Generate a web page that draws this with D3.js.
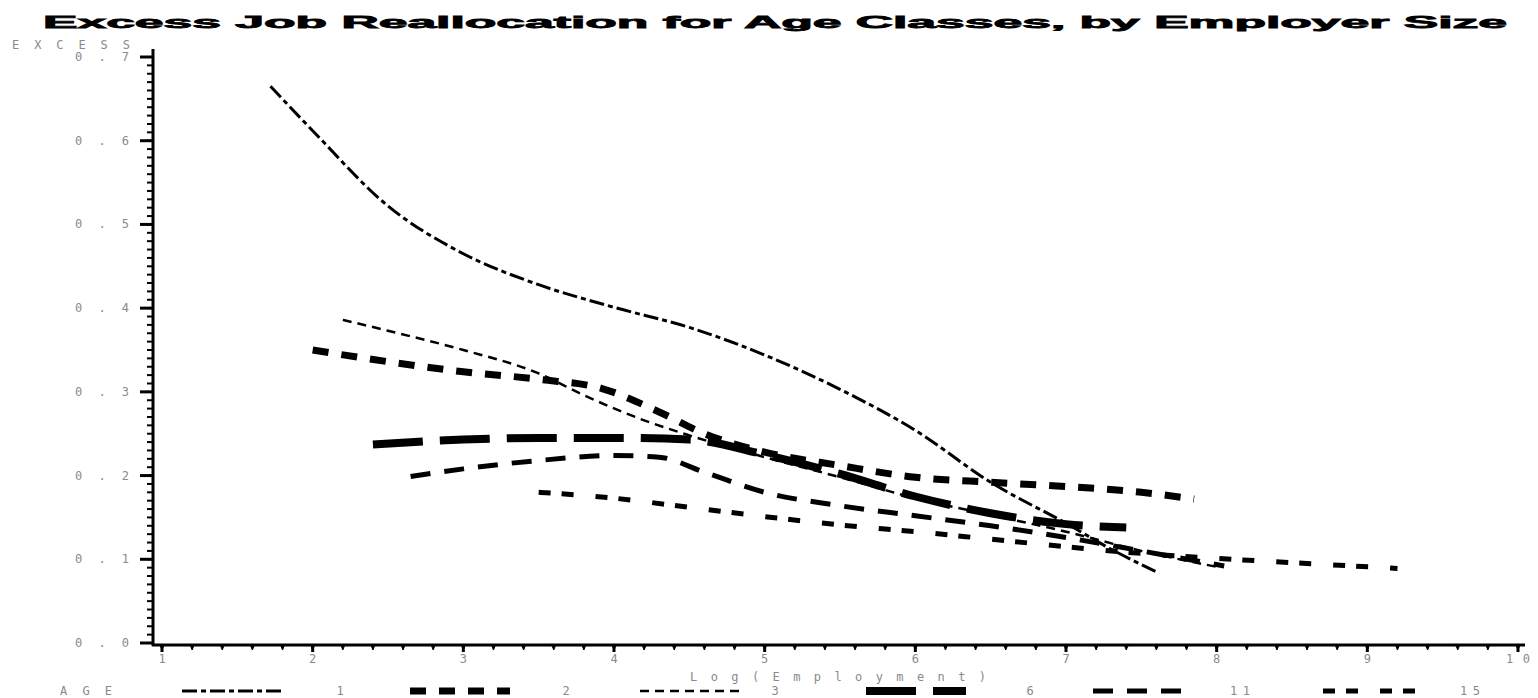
<!DOCTYPE html>
<html>
<head>
<meta charset="utf-8">
<title>Excess Job Reallocation</title>
<script src="https://cdn.jsdelivr.net/npm/d3@7"></script>
<style>
  body { margin: 0; background: #fff; }
  .lbl { font-family: 'DejaVu Sans Mono', monospace; font-size: 12px; fill: #8a8a8a; }
  .title { font-family: 'Liberation Sans', Arial, sans-serif; font-weight: bold; font-size: 17px; fill: #000; stroke: #000; stroke-width: 0.8px; }
</style>
</head>
<body>
<div id="chart"></div>
<script>
// ---- data ----
var ages = ['1', '2', '3', '6', '11', '15'];

var logEmp1 = [1.72, 2.0, 2.5, 3.0, 3.5, 4.0, 4.5, 5.0, 5.5, 6.0, 6.5, 7.0, 7.3, 7.6];
var excess1 = [0.665, 0.612, 0.522, 0.465, 0.428, 0.401, 0.377, 0.344, 0.303, 0.254, 0.192, 0.143, 0.112, 0.085];

var logEmp2 = [2.0, 2.5, 3.0, 3.5, 3.92, 4.3, 4.6, 5.0, 5.5, 6.0, 6.5, 7.0, 7.5, 7.85];
var excess2 = [0.350, 0.336, 0.324, 0.315, 0.304, 0.276, 0.250, 0.228, 0.212, 0.198, 0.192, 0.187, 0.180, 0.172];

var logEmp3 = [2.2, 2.5, 3.0, 3.5, 3.8, 4.2, 4.5, 5.0, 5.5, 6.0, 6.5, 7.0, 7.5, 8.0];
var excess3 = [0.386, 0.373, 0.350, 0.322, 0.296, 0.266, 0.248, 0.222, 0.198, 0.173, 0.153, 0.133, 0.110, 0.091];

var logEmp6 = [2.4, 3.0, 3.5, 4.0, 4.5, 5.0, 5.5, 6.0, 6.5, 7.0, 7.4];
var excess6 = [0.237, 0.243, 0.245, 0.245, 0.243, 0.225, 0.202, 0.175, 0.155, 0.142, 0.138];

var logEmp11 = [2.65, 3.0, 3.5, 4.0, 4.3, 4.6, 5.0, 5.5, 6.0, 6.5, 7.0, 7.5, 8.05];
var excess11 = [0.199, 0.208, 0.218, 0.224, 0.222, 0.204, 0.180, 0.164, 0.152, 0.140, 0.126, 0.110, 0.092];

var logEmp15 = [3.5, 4.0, 4.5, 5.0, 5.5, 6.0, 6.5, 7.0, 7.5, 8.0, 8.5, 9.2];
var excess15 = [0.180, 0.173, 0.162, 0.151, 0.141, 0.133, 0.124, 0.115, 0.107, 0.101, 0.096, 0.089];

var yTicks = [0.0, 0.1, 0.2, 0.3, 0.4, 0.5, 0.6, 0.7];
var xTicks = [1, 2, 3, 4, 5, 6, 7, 8, 9, 10];

// ---- line styles ----
var styles = {
  '1':  {w: 3,   dash: '15,4,5,4'},
  '2':  {w: 7,   dash: '16,13'},
  '3':  {w: 2.5, dash: '9,6'},
  '6':  {w: 8,   dash: '50,17'},
  '11': {w: 5,   dash: '20,14'},
  '15': {w: 5,   dash: '12,11,12,22'}
};

var series = [
  {age: '1',  x: logEmp1,  y: excess1},
  {age: '2',  x: logEmp2,  y: excess2},
  {age: '3',  x: logEmp3,  y: excess3},
  {age: '6',  x: logEmp6,  y: excess6},
  {age: '11', x: logEmp11, y: excess11},
  {age: '15', x: logEmp15, y: excess15}
];

var W = 1538, H = 698;
var svg = d3.select('#chart').append('svg').attr('width', W).attr('height', H);

var x = d3.scaleLinear().domain([1, 10]).range([162, 1518]);
var y = d3.scaleLinear().domain([0, 0.7]).range([643, 57]);
var axisX = 153, axisY = 645;

// title
svg.append('text').attr('class', 'title')
  .attr('x', 43).attr('y', 28)
  .attr('textLength', 1464).attr('lengthAdjust', 'spacingAndGlyphs')
  .text('Excess Job Reallocation for Age Classes, by Employer Size');

// spaced label helper
function spaced(txt, xPos, yPos, len, anchor) {
  svg.append('text').attr('class', 'lbl')
    .attr('x', xPos).attr('y', yPos)
    .attr('text-anchor', anchor || 'start')
    .attr('textLength', len).attr('lengthAdjust', 'spacing')
    .text(txt);
}

// y axis
var yMinor = d3.range(0, 0.7001, 0.01);
svg.append('g').selectAll('line').data(yMinor).enter().append('line')
  .attr('x1', axisX - 6).attr('x2', axisX)
  .attr('y1', d => y(d)).attr('y2', d => y(d))
  .attr('stroke', '#000').attr('stroke-width', 2);
svg.append('g').selectAll('line').data(yTicks).enter().append('line')
  .attr('x1', axisX - 13).attr('x2', axisX)
  .attr('y1', d => y(d)).attr('y2', d => y(d))
  .attr('stroke', '#000').attr('stroke-width', 3);
svg.append('line')
  .attr('x1', axisX).attr('x2', axisX).attr('y1', 49).attr('y2', axisY + 1)
  .attr('stroke', '#000').attr('stroke-width', 3);
yTicks.forEach(function (t) {
  spaced(d3.format('.1f')(t), 129, y(t) + 4, 54, 'end');
});
spaced('EXCESS', 12, 49, 118);

// x axis
svg.append('line')
  .attr('x1', axisX - 1).attr('x2', 1525).attr('y1', axisY).attr('y2', axisY)
  .attr('stroke', '#000').attr('stroke-width', 3);
var xMinor = d3.range(1, 10.001, 0.2);
svg.append('g').selectAll('path').data(xMinor).enter().append('path')
  .attr('d', d => 'M' + (x(d) - 2) + ',' + axisY + 'L' + (x(d) + 2) + ',' + axisY + 'L' + x(d) + ',' + (axisY + 5) + 'Z')
  .attr('fill', '#000').attr('stroke', '#000').attr('stroke-width', 1);
svg.append('g').selectAll('line').data(xTicks).enter().append('line')
  .attr('x1', d => x(d)).attr('x2', d => x(d))
  .attr('y1', axisY).attr('y2', axisY + 7)
  .attr('stroke', '#000').attr('stroke-width', 3);
xTicks.forEach(function (t) {
  if (t < 10) spaced(String(t), x(t), 663, 8, 'middle');
  else spaced(String(t), x(t), 663, 24, 'middle');
});
spaced('Log(Employment)', 690, 681, 296);

// lines
var line = d3.line()
  .x(d => x(d[0]))
  .y(d => y(d[1]))
  .curve(d3.curveMonotoneX);

svg.append('g').selectAll('path').data(series).enter().append('path')
  .attr('d', s => line(s.x.map((v, i) => [v, s.y[i]])))
  .attr('fill', 'none')
  .attr('stroke', '#000')
  .attr('stroke-width', s => styles[s.age].w)
  .attr('stroke-dasharray', s => styles[s.age].dash);

// legend
var legY = 691;
spaced('AGE', 60, legY + 4, 52);
var legStart = [182, 410, 640, 866, 1093, 1323];
var legLabel = [340, 566, 775, 1030, 1240, 1470];
ages.forEach(function (a, i) {
  svg.append('line')
    .attr('x1', legStart[i]).attr('x2', legStart[i] + 100)
    .attr('y1', legY).attr('y2', legY)
    .attr('stroke', '#000')
    .attr('stroke-width', styles[a].w)
    .attr('stroke-dasharray', styles[a].dash);
  spaced(a, legLabel[i], legY + 4, a.length > 1 ? 20 : 8, 'middle');
});
</script>
</body>
</html>
